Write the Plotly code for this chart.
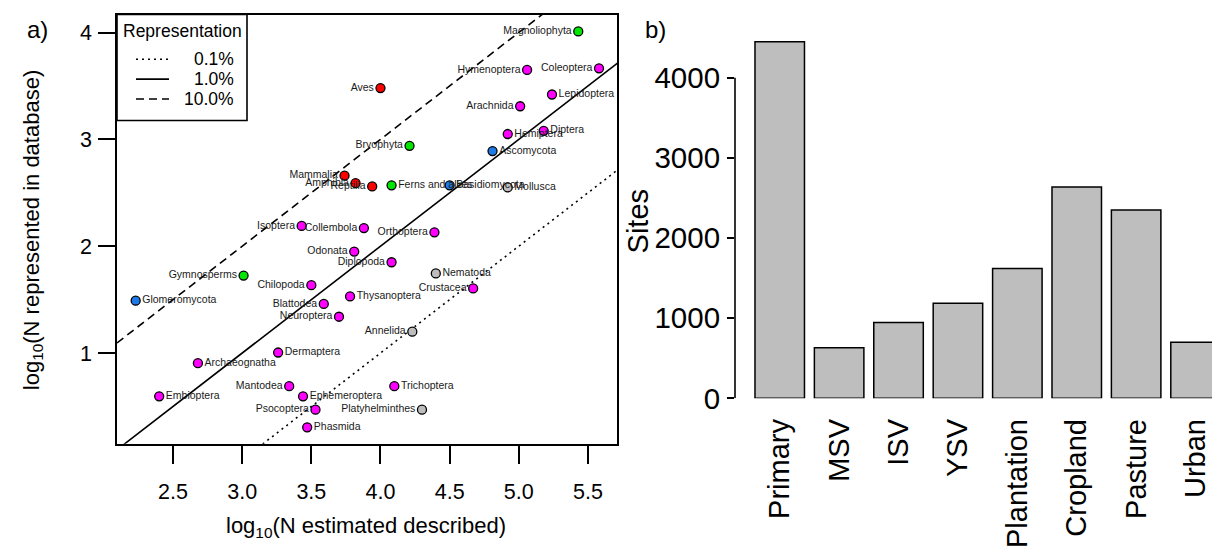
import math
import plotly.graph_objects as go

W, H = 1212, 557

# ---------------- Panel a data ----------------
taxa = ["Magnoliophyta", "Hymenoptera", "Coleoptera", "Aves", "Lepidoptera", "Arachnida",
        "Hemiptera", "Diptera", "Bryophyta", "Ascomycota", "Mammalia", "Amphibia", "Reptilia",
        "Ferns and allies", "Basidiomycota", "Mollusca", "Isoptera", "Collembola", "Orthoptera",
        "Odonata", "Diplopoda", "Gymnosperms", "Nematoda", "Chilopoda", "Crustacea",
        "Glomeromycota", "Thysanoptera", "Blattodea", "Neuroptera", "Annelida", "Dermaptera",
        "Archaeognatha", "Mantodea", "Trichoptera", "Embioptera", "Ephemeroptera", "Psocoptera",
        "Platyhelminthes", "Phasmida"]
log_described = [5.43, 5.06, 5.58, 4.00, 5.24, 5.01,
                 4.92, 5.18, 4.21, 4.81, 3.74, 3.82, 3.94,
                 4.08, 4.50, 4.92, 3.43, 3.88, 4.39,
                 3.81, 4.08, 3.01, 4.40, 3.50, 4.67,
                 2.23, 3.78, 3.59, 3.70, 4.23, 3.26,
                 2.68, 3.34, 4.10, 2.40, 3.44, 3.53,
                 4.30, 3.47]
log_represented = [4.01, 3.65, 3.665, 3.48, 3.42, 3.31,
                   3.05, 3.08, 2.94, 2.89, 2.66, 2.59, 2.56,
                   2.57, 2.57, 2.55, 2.19, 2.17, 2.13,
                   1.95, 1.85, 1.725, 1.745, 1.635, 1.605,
                   1.49, 1.53, 1.46, 1.34, 1.20, 1.005,
                   0.905, 0.69, 0.69, 0.595, 0.595, 0.47,
                   0.47, 0.305]
group = ["plant", "insect", "insect", "vert", "insect", "insect",
         "insect", "insect", "plant", "fungi", "vert", "vert", "vert",
         "plant", "fungi", "other", "insect", "insect", "insect",
         "insect", "insect", "plant", "other", "insect", "insect",
         "fungi", "insect", "insect", "insect", "other", "insect",
         "insect", "insect", "insect", "insect", "insect", "insect",
         "other", "insect"]
label_side = ["left", "left", "left", "left", "right", "left",
              "right", "right", "left", "right", "left", "left", "left",
              "right", "right", "right", "left", "left", "left",
              "left", "left", "left", "right", "left", "left",
              "right", "right", "left", "left", "left", "right",
              "right", "left", "right", "right", "right", "left",
              "left", "right"]
group_colors = {"vert": "#ff0000", "plant": "#00e600", "fungi": "#1f7ae8",
                "insect": "#ff00ff", "other": "#bdbdbd"}

fractions = [0.001, 0.01, 0.1]
fraction_labels = ["0.1%", "1.0%", "10.0%"]
fraction_dash = ["2px,4px", "solid", "8px,5px"]

# ---------------- Panel b data ----------------
land_use = ["Primary", "MSV", "ISV", "YSV", "Plantation", "Cropland", "Pasture", "Urban"]
sites = [4450, 630, 945, 1185, 1620, 2635, 2350, 700]

# ---------------- helpers ----------------
def px(x):
    return x / W

def py(y):
    return 1 - y / H

fig = go.Figure()

# reference lines (log10 represented = log10 described + log10 fraction)
xline = [1.5, 6.5]
for f, d in zip(fractions, fraction_dash):
    fig.add_trace(go.Scatter(
        x=xline, y=[v + math.log10(f) for v in xline], mode="lines",
        line=dict(color="black", width=1.6, dash=d), showlegend=False,
        hoverinfo="skip", xaxis="x", yaxis="y"))

fig.add_trace(go.Scatter(
    x=log_described, y=log_represented, mode="markers+text",
    text=taxa, textposition=["middle " + s for s in label_side],
    textfont=dict(family="Liberation Sans, Arial", size=10.5, color="#1a1a1a"),
    marker=dict(size=9, color=[group_colors[g] for g in group],
                line=dict(color="black", width=1.3)),
    showlegend=False, xaxis="x", yaxis="y", cliponaxis=False))

fig.add_trace(go.Bar(
    x=land_use, y=sites, marker=dict(color="#bebebe", line=dict(color="black", width=1.5)),
    showlegend=False, xaxis="x2", yaxis="y2"))

font = "Liberation Sans, Arial"

fig.update_layout(
    width=W, height=H, margin=dict(l=0, r=0, t=0, b=0),
    paper_bgcolor="white", plot_bgcolor="white",
    font=dict(family=font, color="black"),
    bargap=0.2 / 1.2,
    xaxis=dict(domain=[px(117), px(617)], range=[2.095, 5.71],
               tickvals=[2.5, 3.0, 3.5, 4.0, 4.5, 5.0, 5.5], ticktext=["2.5", "3.0", "3.5", "4.0", "4.5", "5.0", "5.5"],
               showgrid=False, zeroline=False, showline=True, mirror=True,
               linecolor="black", linewidth=1.6, ticks="outside", ticklen=18, tickwidth=1.6,
               tickcolor="black", tickfont=dict(size=21.5), ticklabelstandoff=10),
    yaxis=dict(domain=[py(457), py(15)], range=[0.15, 4.168],
               tickvals=[1, 2, 3, 4], showgrid=False, zeroline=False, showline=True, mirror=True,
               linecolor="black", linewidth=1.6, ticks="outside", ticklen=17, tickwidth=1.6,
               tickcolor="black", tickfont=dict(size=21.5), ticklabelstandoff=2),
    xaxis2=dict(domain=[px(735), 1.0], range=[-0.753, 7.277], anchor="y2",
                showgrid=False, zeroline=False, showline=False, ticks="",
                tickangle=-90, tickfont=dict(size=29), ticklabelstandoff=14),
    yaxis2=dict(domain=[py(410), py(14)], range=[0, 4800], anchor="x2",
                tickvals=[0, 1000, 2000, 3000, 4000], showgrid=False, zeroline=False,
                showline=False, ticks="outside", ticklen=7, tickwidth=1.6, tickcolor="black",
                tickfont=dict(size=29.5), ticklabelstandoff=1),
)

shapes = []
annotations = []
# bar chart y axis line spanning ticks
shapes.append(dict(type="line", xref="x2 domain", yref="y2", x0=0, x1=0, y0=0, y1=4000,
                   line=dict(color="black", width=1.6)))

# manual legend box for panel a
shapes.append(dict(type="rect", xref="paper", yref="paper", x0=px(117), x1=px(247),
                   y0=py(124), y1=py(15), fillcolor="white", line=dict(color="black", width=1.6),
                   layer="above"))
annotations.append(dict(text="Representation", xref="paper", yref="paper", x=px(182), y=py(32),
                        showarrow=False, font=dict(size=17.5), xanchor="center", yanchor="middle"))
for i, (lab, d) in enumerate(zip(fraction_labels, fraction_dash)):
    yy = [61, 81.5, 102][i]
    shapes.append(dict(type="line", xref="paper", yref="paper", x0=px(136), x1=px(169),
                       y0=py(yy), y1=py(yy), line=dict(color="black", width=1.6, dash=d),
                       layer="above"))
    annotations.append(dict(text=lab, xref="paper", yref="paper", x=px(236), y=py(yy),
                            showarrow=False, font=dict(size=17.5), xanchor="right", yanchor="middle"))

# panel labels & axis titles
annotations.append(dict(text="a)", xref="paper", yref="paper", x=px(37), y=py(30), showarrow=False,
                        font=dict(size=24), xanchor="center", yanchor="middle"))
annotations.append(dict(text="b)", xref="paper", yref="paper", x=px(655), y=py(30), showarrow=False,
                        font=dict(size=24), xanchor="center", yanchor="middle"))
annotations.append(dict(text="log<sub>10</sub>(N represented in database)", xref="paper", yref="paper",
                        x=px(33), y=py(237), showarrow=False, textangle=-90,
                        font=dict(size=22), xanchor="center", yanchor="middle"))
annotations.append(dict(text="log<sub>10</sub>(N estimated described)", xref="paper", yref="paper",
                        x=px(366), y=py(559), showarrow=False,
                        font=dict(size=22), xanchor="center", yanchor="bottom"))
annotations.append(dict(text="Sites", xref="paper", yref="paper",
                        x=px(638), y=py(228), showarrow=False, textangle=-90,
                        font=dict(size=29), xanchor="center", yanchor="middle"))

fig.update_layout(shapes=shapes, annotations=annotations)

fig.write_html("out.html")
